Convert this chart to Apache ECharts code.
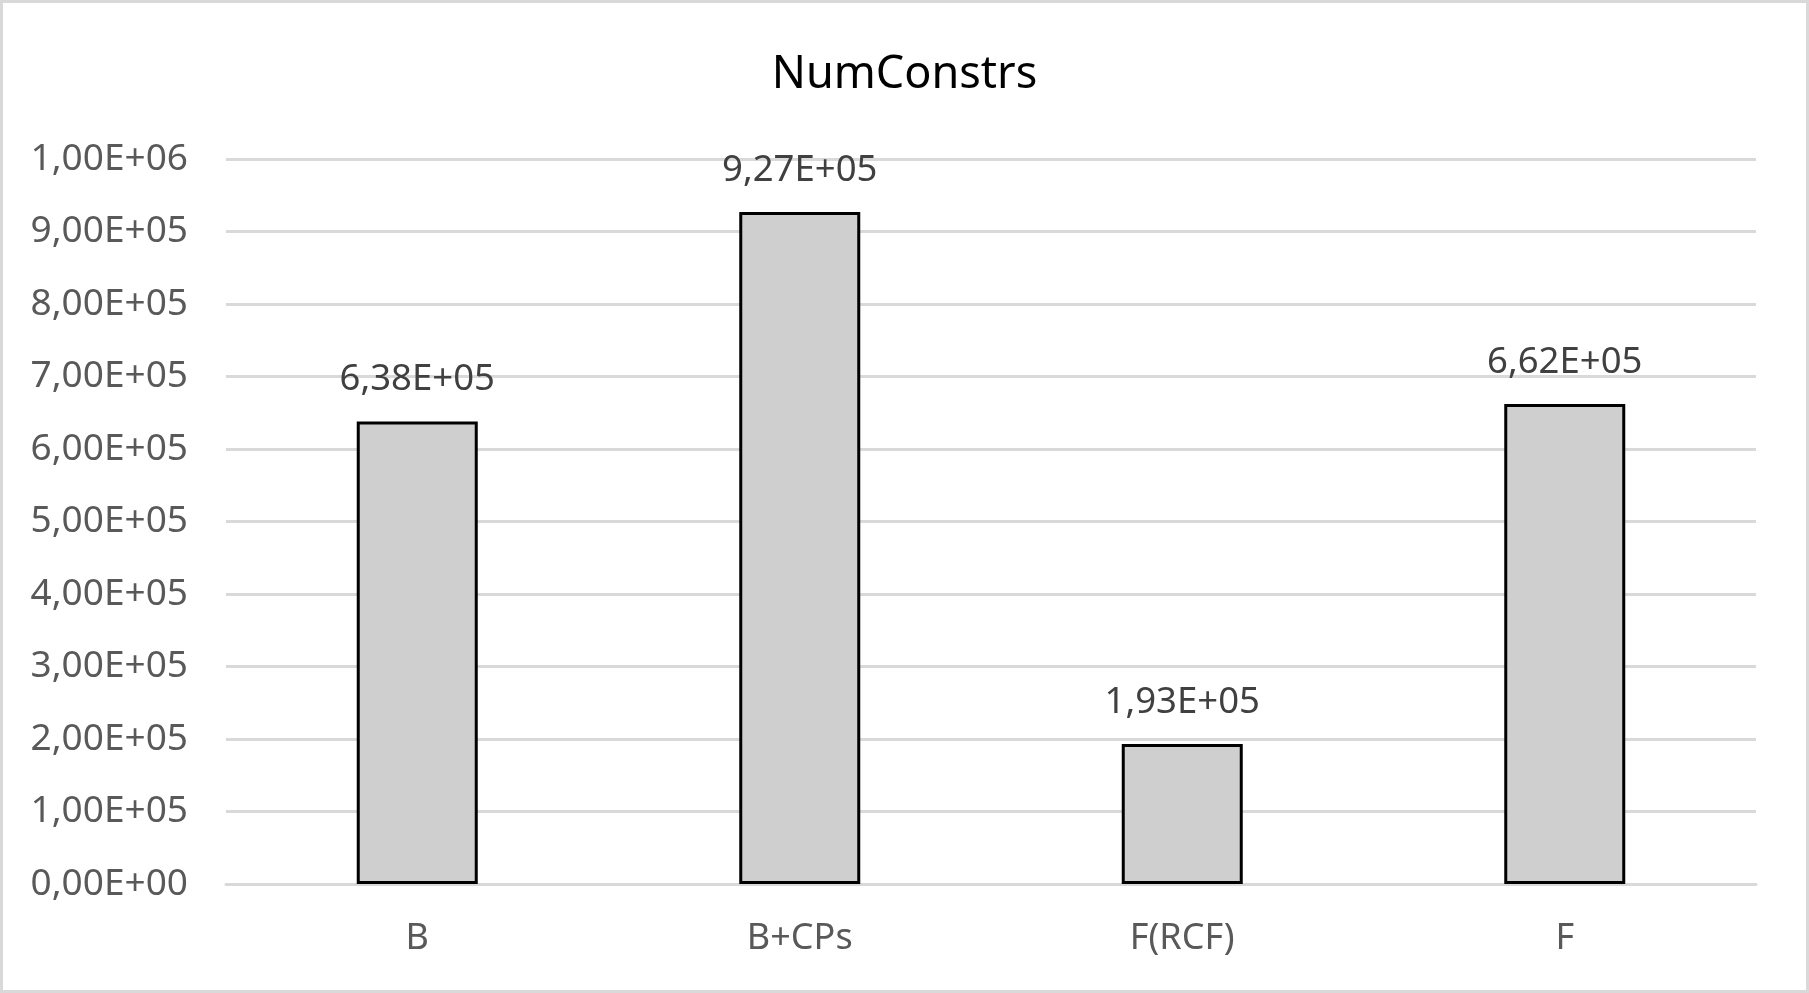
<!DOCTYPE html>
<html>
<head>
<meta charset="utf-8">
<script src="https://cdn.jsdelivr.net/npm/echarts@6/dist/echarts.min.js"></script>
<style>
html,body{margin:0;padding:0;background:#fff;}
#chart{width:1809px;height:993px;}
</style>
</head>
<body>
<div id="chart"></div>
<script>
const title = 'NumConstrs';
const categories = ['B', 'B+CPs', 'F(RCF)', 'F'];
const values = [638000, 927000, 193000, 662000];
const yTicks = [0, 100000, 200000, 300000, 400000, 500000, 600000, 700000, 800000, 900000, 1000000];

function sci(v) {
  if (v === 0) return '0,00E+00';
  const e = Math.floor(Math.log10(Math.abs(v)));
  let ms = (v / Math.pow(10, e)).toFixed(2);
  let ee = e;
  if (parseFloat(ms) >= 10) { ee = e + 1; ms = (v / Math.pow(10, ee)).toFixed(2); }
  const sign = ee < 0 ? '-' : '+';
  const es = String(Math.abs(ee)).padStart(2, '0');
  return ms.replace('.', ',') + 'E' + sign + es;
}

const FONT = 'Noto Sans';
const chart = echarts.init(document.getElementById('chart'), null, {renderer: 'canvas'});
chart.setOption({
  animation: false,
  backgroundColor: '#ffffff',
  graphic: [{
    type: 'rect',
    shape: {x: 1.5, y: 1.5, width: 1806, height: 990},
    style: {fill: 'none', stroke: '#d9d9d9', lineWidth: 3},
    silent: true
  }],
  title: {
    text: title,
    left: 'center',
    top: 48,
    textStyle: {fontFamily: FONT, fontSize: 45, fontWeight: 'normal', color: '#000000'}
  },
  grid: {left: 226, right: 53, top: 159, bottom: 109, containLabel: false},
  xAxis: {
    type: 'category',
    data: categories,
    axisLine: {show: true, lineStyle: {color: '#d9d9d9', width: 3}},
    axisTick: {show: false},
    axisLabel: {fontFamily: FONT, fontSize: 36, color: '#595959', margin: 37}
  },
  yAxis: {
    type: 'value',
    min: yTicks[0],
    max: yTicks[yTicks.length - 1],
    interval: yTicks[1] - yTicks[0],
    axisLine: {show: false},
    axisTick: {show: false},
    splitLine: {show: true, lineStyle: {color: '#d9d9d9', width: 3}},
    axisLabel: {fontFamily: FONT, fontSize: 37, color: '#595959', margin: 38, formatter: sci}
  },
  series: [{
    type: 'bar',
    data: values,
    barWidth: 121,
    itemStyle: {color: '#d0cfd0', borderColor: '#000000', borderWidth: 3},
    label: {
      show: true,
      position: 'top',
      distance: 23,
      fontFamily: FONT,
      fontSize: 36.5,
      color: '#404040',
      formatter: p => sci(p.value)
    }
  }]
});
</script>
</body>
</html>
